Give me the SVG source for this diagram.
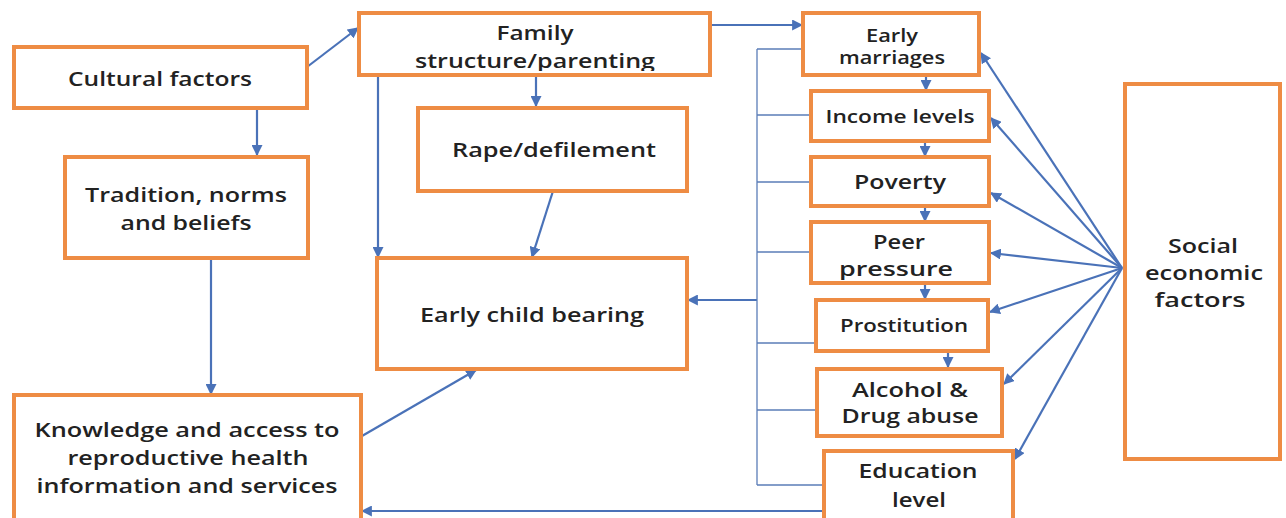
<svg xmlns="http://www.w3.org/2000/svg" width="1286" height="518" viewBox="0 0 1286 518">
<style>
.box{fill:#fff;stroke:#EE8C44;stroke-width:4}
.t{font-family:"Open Sans","Liberation Sans",sans-serif;font-weight:600;font-size:20px;fill:#222;text-anchor:middle}
.c{fill:none;stroke:#4A72B8;stroke-width:2.2}
.th{fill:none;stroke:#5B7DB8;stroke-width:1.3}
</style>
<defs>
<marker id="ah" viewBox="0 0 10 10" refX="9" refY="5" markerWidth="5" markerHeight="5" orient="auto-start-reverse" markerUnits="strokeWidth">
<path d="M0,0 L10,5 L0,10 z" fill="#4A72B8"/>
</marker>
<clipPath id="cf"><rect x="359" y="13" width="351" height="58"/></clipPath>
<clipPath id="cp"><rect x="811" y="222" width="178" height="58"/></clipPath>
</defs>
<rect width="1286" height="518" fill="#fff"/>

<g id="connectors">
<line class="c" x1="307" y1="67" x2="358" y2="28" marker-end="url(#ah)"/>
<line class="c" x1="257" y1="108" x2="257" y2="155" marker-end="url(#ah)"/>
<line class="c" x1="211" y1="259" x2="211" y2="394" marker-end="url(#ah)"/>
<line class="c" x1="378" y1="75" x2="378" y2="257" marker-end="url(#ah)"/>
<line class="c" x1="536" y1="75" x2="536" y2="106" marker-end="url(#ah)"/>
<line class="c" x1="553" y1="191" x2="532" y2="257" marker-end="url(#ah)"/>
<line class="c" x1="362" y1="436" x2="476" y2="370" marker-end="url(#ah)"/>
<line class="c" x1="710" y1="25" x2="802" y2="25" marker-end="url(#ah)"/>
<line class="c" x1="757" y1="300" x2="688" y2="300" marker-end="url(#ah)"/>
<line class="c" x1="824" y1="511" x2="362" y2="511" marker-end="url(#ah)"/>
<line class="c" x1="926" y1="76" x2="926" y2="90" marker-end="url(#ah)"/>
<line class="c" x1="925" y1="142" x2="925" y2="156" marker-end="url(#ah)"/>
<line class="c" x1="925" y1="207" x2="925" y2="221" marker-end="url(#ah)"/>
<line class="c" x1="925" y1="284" x2="925" y2="299" marker-end="url(#ah)"/>
<line class="c" x1="948" y1="352" x2="948" y2="367" marker-end="url(#ah)"/>
<path class="th" d="M757,49 L757,485 M757,49 H803 M757,115 H810 M757,182 H810 M757,252 H811 M757,343 H816 M757,410 H817 M757,485 H824"/>
<line class="c" x1="1122" y1="268" x2="981" y2="53" marker-end="url(#ah)"/>
<line class="c" x1="1122" y1="268" x2="991" y2="118" marker-end="url(#ah)"/>
<line class="c" x1="1122" y1="268" x2="991" y2="193" marker-end="url(#ah)"/>
<line class="c" x1="1122" y1="268" x2="991" y2="253" marker-end="url(#ah)"/>
<line class="c" x1="1122" y1="268" x2="990" y2="312" marker-end="url(#ah)"/>
<line class="c" x1="1122" y1="268" x2="1004" y2="384" marker-end="url(#ah)"/>
<line class="c" x1="1122" y1="268" x2="1015" y2="459" marker-end="url(#ah)"/>
</g>

<g id="cultural"><rect class="box" x="14" y="47" width="293" height="61"/><text class="t" x="160" y="86" textLength="184" lengthAdjust="spacingAndGlyphs">Cultural factors</text></g>
<g id="tradition"><rect class="box" x="65" y="157" width="243" height="101"/><text class="t" x="186" y="202" textLength="202" lengthAdjust="spacingAndGlyphs">Tradition, norms</text><text class="t" x="186" y="230" textLength="131" lengthAdjust="spacingAndGlyphs">and beliefs</text></g>
<g id="knowledge"><rect class="box" x="14" y="395" width="347" height="126"/><text class="t" x="187" y="437" textLength="305" lengthAdjust="spacingAndGlyphs">Knowledge and access to</text><text class="t" x="188" y="465" textLength="241" lengthAdjust="spacingAndGlyphs">reproductive health</text><text class="t" x="187" y="493" textLength="301" lengthAdjust="spacingAndGlyphs">information and services</text></g>
<g id="family"><rect class="box" x="359" y="13" width="351" height="62"/><g clip-path="url(#cf)"><text class="t" x="535" y="40" textLength="77" lengthAdjust="spacingAndGlyphs">Family</text><text class="t" x="535" y="68" textLength="240" lengthAdjust="spacingAndGlyphs">structure/parenting</text></g></g>
<g id="rape"><rect class="box" x="418" y="108" width="269" height="83"/><text class="t" x="554" y="157" textLength="204" lengthAdjust="spacingAndGlyphs">Rape/defilement</text></g>
<g id="ecb"><rect class="box" x="377" y="258" width="310" height="111"/><text class="t" x="532" y="322" textLength="224" lengthAdjust="spacingAndGlyphs">Early child bearing</text></g>
<g id="marriages"><rect class="box" x="803" y="13" width="176" height="62"/><text class="t" x="892" y="42" textLength="52" lengthAdjust="spacingAndGlyphs" style="font-size:18px">Early</text><text class="t" x="892" y="64" textLength="106" lengthAdjust="spacingAndGlyphs" style="font-size:18px">marriages</text></g>
<g id="income"><rect class="box" x="811" y="91" width="178" height="50"/><text class="t" x="900" y="123" textLength="149" lengthAdjust="spacingAndGlyphs" style="font-size:18px">Income levels</text></g>
<g id="poverty"><rect class="box" x="811" y="157" width="178" height="49"/><text class="t" x="900" y="189" textLength="92" lengthAdjust="spacingAndGlyphs">Poverty</text></g>
<g id="peer"><rect class="box" x="811" y="222" width="178" height="61"/><g clip-path="url(#cp)"><text class="t" x="899" y="249" textLength="52" lengthAdjust="spacingAndGlyphs">Peer</text><text class="t" x="896" y="276" textLength="114" lengthAdjust="spacingAndGlyphs">pressure</text></g></g>
<g id="prostitution"><rect class="box" x="816" y="300" width="172" height="51"/><text class="t" x="904" y="332" textLength="128" lengthAdjust="spacingAndGlyphs" style="font-size:18px">Prostitution</text></g>
<g id="alcohol"><rect class="box" x="817" y="369" width="185" height="67"/><text class="t" x="910" y="397" textLength="116" lengthAdjust="spacingAndGlyphs">Alcohol &amp;</text><text class="t" x="910" y="423" textLength="137" lengthAdjust="spacingAndGlyphs">Drug abuse</text></g>
<g id="education"><rect class="box" x="824" y="451" width="189" height="70"/><text class="t" x="918" y="478" textLength="119" lengthAdjust="spacingAndGlyphs">Education</text><text class="t" x="919" y="507" textLength="54" lengthAdjust="spacingAndGlyphs">level</text></g>
<g id="social"><rect class="box" x="1125" y="84" width="155" height="375"/><text class="t" x="1203" y="253" textLength="70" lengthAdjust="spacingAndGlyphs">Social</text><text class="t" x="1204" y="280" textLength="118" lengthAdjust="spacingAndGlyphs">economic</text><text class="t" x="1200" y="307" textLength="91" lengthAdjust="spacingAndGlyphs">factors</text></g>
</svg>
